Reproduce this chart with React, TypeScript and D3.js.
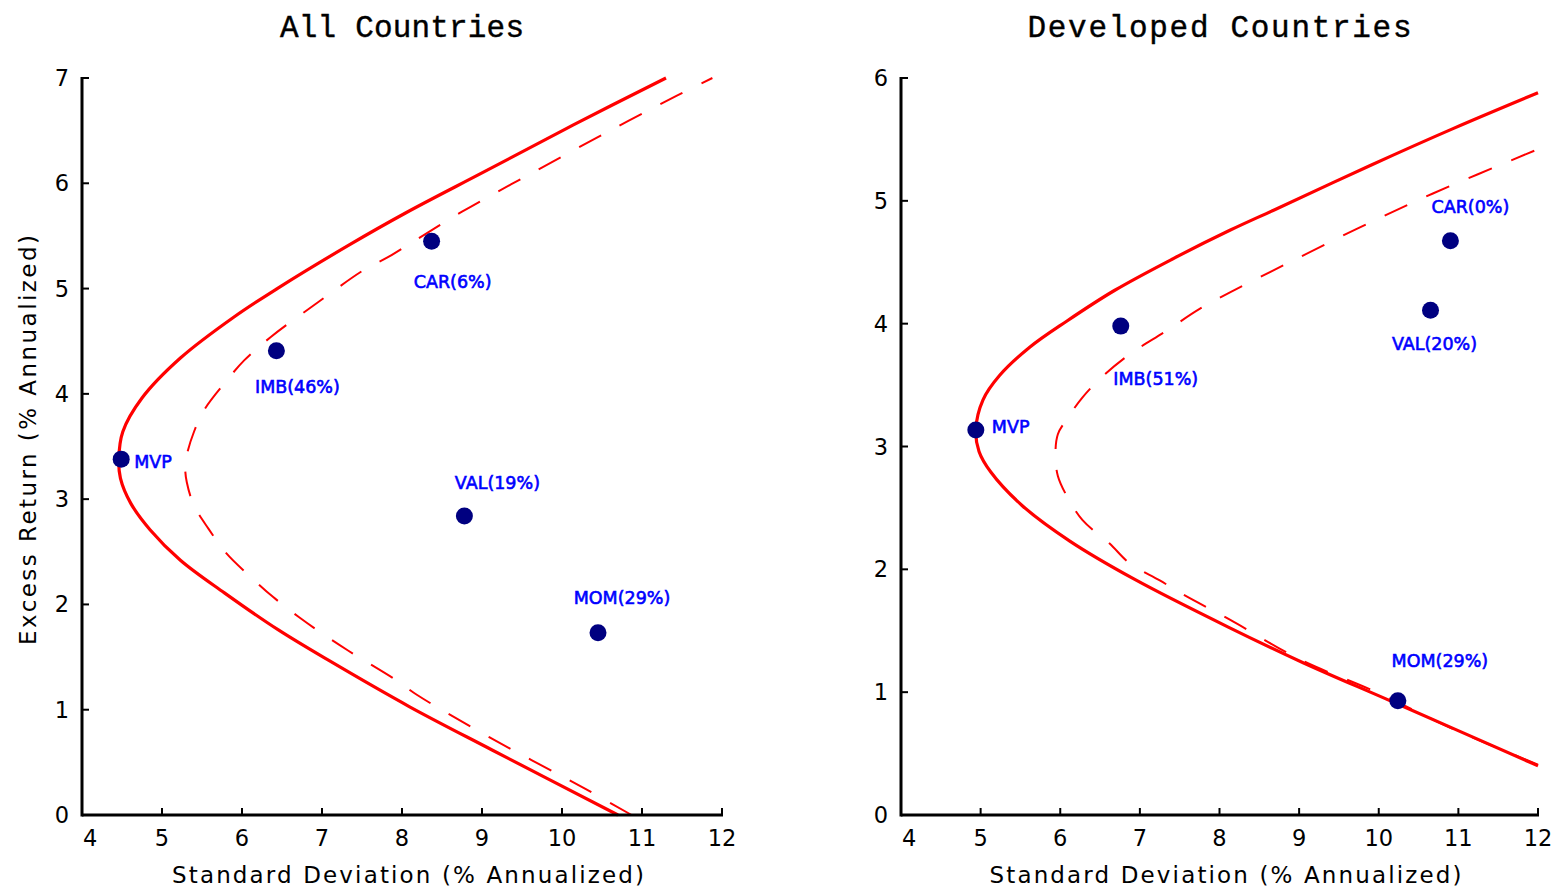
import React from "react";
import * as d3 from "d3";

type Pt = [number, number];

// x tick values shared by both panels
const sdTicks = [4, 5, 6, 7, 8, 9, 10, 11, 12];
const allRetTicks = [0, 1, 2, 3, 4, 5, 6, 7];
const devRetTicks = [0, 1, 2, 3, 4, 5, 6];

// All Countries: frontier with all strategies (solid) and without (dashed)
const allSolid: Pt[] = [
  [10.7, 0.0], [9.12, 0.62], [8.09, 1.03], [7.08, 1.47], [6.45, 1.76],
  [5.78, 2.11], [5.23, 2.42], [4.85, 2.71], [4.61, 2.96], [4.48, 3.2],
  [4.46, 3.38], [4.51, 3.64], [4.75, 3.96], [5.23, 4.34], [5.9, 4.73],
  [6.44, 5.0], [7.33, 5.41], [8.05, 5.72], [9.03, 6.11], [10.13, 6.55],
  [11.3, 7.0],
];
const allDashed: Pt[] = [
  [10.87, 0.0], [10.31, 0.24], [9.09, 0.74], [8.19, 1.14], [7.93, 1.28],
  [7.33, 1.56], [6.99, 1.73], [6.71, 1.88], [6.39, 2.07], [6.11, 2.26],
  [5.8, 2.49], [5.58, 2.72], [5.4, 2.94], [5.31, 3.16], [5.29, 3.3],
  [5.31, 3.42], [5.4, 3.64], [5.53, 3.85], [5.78, 4.1], [6.03, 4.32],
  [6.36, 4.54], [6.95, 4.87], [7.53, 5.18], [7.83, 5.3], [8.15, 5.45],
  [8.75, 5.73], [9.63, 6.1], [10.55, 6.48], [11.43, 6.83], [11.88, 7.0],
];
const allNames = ["MVP", "IMB(46%)", "CAR(6%)", "VAL(19%)", "MOM(29%)"];
const allSd = [4.49, 6.43, 8.37, 8.78, 10.45];
const allRet = [3.38, 4.41, 5.45, 2.84, 1.73];

// Developed Countries
const devSolid: Pt[] = [
  [12.0, 0.4], [10.18, 0.92], [9.05, 1.24], [8.11, 1.53], [6.93, 1.92],
  [6.12, 2.23], [5.52, 2.52], [5.13, 2.79], [4.98, 2.96], [4.94, 3.14],
  [5.03, 3.38], [5.24, 3.58], [5.62, 3.81], [6.08, 4.02], [6.68, 4.27],
  [7.42, 4.53], [8.13, 4.76], [8.7, 4.93], [9.9, 5.29], [10.94, 5.59],
  [12.0, 5.88],
];
const devDashed: Pt[] = [
  [12.0, 0.41], [10.9, 0.71], [9.97, 1.0], [9.0, 1.27], [8.13, 1.59],
  [7.53, 1.8], [7.25, 1.91], [6.87, 2.05], [6.62, 2.21], [6.28, 2.4],
  [6.08, 2.6], [5.97, 2.76], [5.94, 2.93], [5.97, 3.1], [6.08, 3.22],
  [6.28, 3.4], [6.53, 3.57], [6.87, 3.75], [7.33, 3.94], [7.75, 4.12],
  [8.15, 4.26], [8.85, 4.49], [9.75, 4.78], [10.68, 5.06], [12.0, 5.42],
];
const devNames = ["MVP", "IMB(51%)", "CAR(0%)", "VAL(20%)", "MOM(29%)"];
const devSd = [4.94, 6.76, 10.9, 10.65, 10.24];
const devRet = [3.135, 3.98, 4.675, 4.11, 0.93];

// label placement around each dot: [dx, dy, anchor]
const allLabelPos: [number, number, string][] = [
  [13, 2, "start"], [21, 36, "middle"], [21, 40, "middle"], [33, -33, "middle"], [24, -35, "middle"],
];
const devLabelPos: [number, number, string][] = [
  [16, -3, "start"], [35, 52, "middle"], [20, -34, "middle"], [4, 33, "middle"], [42, -40, "middle"],
];

const tickFont = "'DejaVu Sans', sans-serif";

function Panel(props: {
  left: number;
  right: number;
  yMax: number;
  yTicks: number[];
  title: string;
  titleLen: number;
  solid: Pt[];
  dashed: Pt[];
  names: string[];
  sd: number[];
  ret: number[];
  labelPos: [number, number, string][];
  yLabel?: boolean;
}) {
  const top = 78;
  const bottom = 815;
  const x = d3.scaleLinear().domain([4, 12]).range([props.left, props.right]);
  const y = d3.scaleLinear().domain([0, props.yMax]).range([bottom, top]);
  const line = d3
    .line<Pt>()
    .x((d) => x(d[0]))
    .y((d) => y(d[1]))
    .curve(d3.curveCatmullRom.alpha(0.5));
  const cx = (props.left + props.right) / 2;

  return (
    <g>
      <text
        x={cx}
        y={37}
        textAnchor="middle"
        fontFamily="'Liberation Mono', monospace"
        fontSize={31}
        stroke="#000"
        strokeWidth={0.4}
        textLength={props.titleLen}
        lengthAdjust="spacing"
      >
        {props.title}
      </text>

      {/* frontiers */}
      <path d={line(props.dashed) || ""} fill="none" stroke="#ff0000" strokeWidth={2} strokeDasharray="25,21" />
      <path d={line(props.solid) || ""} fill="none" stroke="#ff0000" strokeWidth={3.2} />

      {/* axes */}
      <line x1={props.left} x2={props.left} y1={top - 1} y2={bottom + 1.5} stroke="#000" strokeWidth={3} />
      <line x1={props.left} x2={props.right + 1} y1={bottom} y2={bottom} stroke="#000" strokeWidth={3} />
      {props.yTicks.map((t) => (
        <g key={"y" + t}>
          <line x1={props.left} x2={props.left + 7} y1={y(t)} y2={y(t)} stroke="#000" strokeWidth={2} />
          <text x={props.left - 20} y={y(t) + 8} textAnchor="middle" fontFamily={tickFont} fontSize={22.5}>
            {t}
          </text>
        </g>
      ))}
      {sdTicks.map((t, i) => (
        <g key={"x" + t}>
          <line x1={x(t)} x2={x(t)} y1={bottom} y2={bottom - 7} stroke="#000" strokeWidth={2} />
          <text
            x={i === 0 ? x(t) + 1 : x(t)}
            y={846}
            textAnchor={i === 0 ? "start" : "middle"}
            fontFamily={tickFont}
            fontSize={22.5}
          >
            {t}
          </text>
        </g>
      ))}
      <text
        x={cx + 6}
        y={883}
        textAnchor="middle"
        fontFamily={tickFont}
        fontSize={23}
        textLength={472}
        lengthAdjust="spacing"
      >
        Standard Deviation (% Annualized)
      </text>
      {props.yLabel && (
        <text
          transform={`translate(36,440) rotate(-90)`}
          textAnchor="middle"
          fontFamily={tickFont}
          fontSize={23}
          textLength={410}
          lengthAdjust="spacing"
        >
          Excess Return (% Annualized)
        </text>
      )}

      {/* strategy points */}
      {props.names.map((n, i) => {
        const px = x(props.sd[i]);
        const py = y(props.ret[i]);
        const [dx, dy, anchor] = props.labelPos[i];
        return (
          <g key={n}>
            <circle cx={px} cy={py} r={8.5} fill="#000080" />
            <text
              x={px + dx}
              y={py + dy + 6.5}
              textAnchor={anchor as any}
              fontFamily={tickFont}
              fontSize={17.5}
              fill="#0000ff"
              stroke="#0000ff"
              strokeWidth={0.6}
            >
              {n}
            </text>
          </g>
        );
      })}
    </g>
  );
}

export default function App() {
  return (
    <svg
      width={1556}
      height={889}
      style={{ position: "absolute", left: 0, top: 0, display: "block", background: "#fff" }}
    >
      <Panel
        left={82}
        right={722}
        yMax={7}
        yTicks={allRetTicks}
        title="All Countries"
        titleLen={244}
        solid={allSolid}
        dashed={allDashed}
        names={allNames}
        sd={allSd}
        ret={allRet}
        labelPos={allLabelPos}
        yLabel
      />
      <Panel
        left={901}
        right={1538}
        yMax={6}
        yTicks={devRetTicks}
        title="Developed Countries"
        titleLen={384}
        solid={devSolid}
        dashed={devDashed}
        names={devNames}
        sd={devSd}
        ret={devRet}
        labelPos={devLabelPos}
      />
    </svg>
  );
}
